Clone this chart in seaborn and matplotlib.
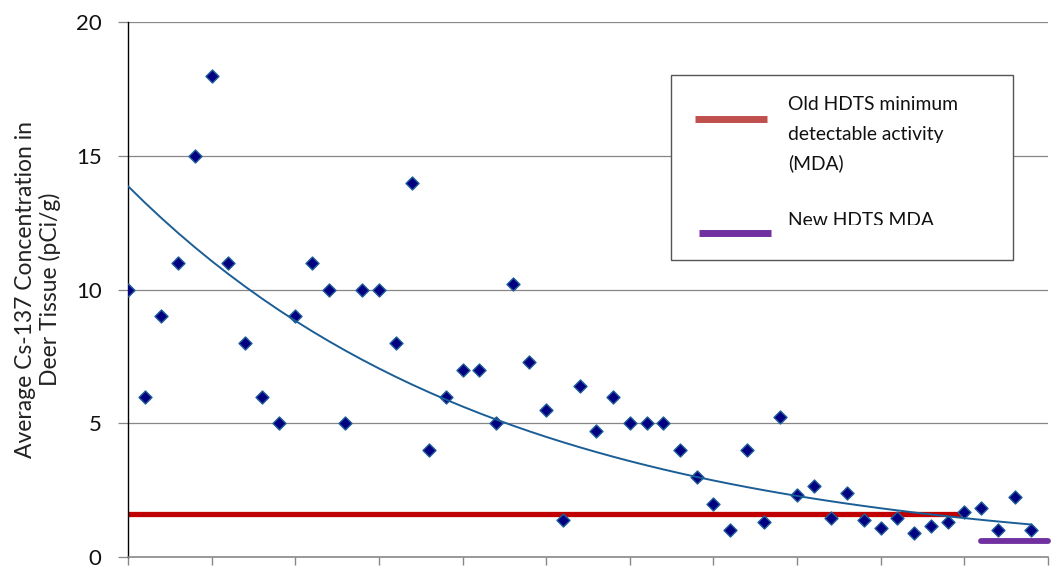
import numpy as np
import pandas as pd
import matplotlib
matplotlib.use("Agg")
import matplotlib.pyplot as plt
import seaborn as sns
from matplotlib.patches import Rectangle
from matplotlib.transforms import Bbox

# average Cs-137 concentration per sample (pCi/g)
cs137 = [10, 6, 9, 11, 15, 18, 11, 8, 6, 5,
         9, 11, 10, 5, 10, 10, 8, 14, 4, 6,
         7, 7, 5, 10.2, 7.3, 5.5, 1.4, 6.4, 4.7, 6,
         5, 5, 5, 4, 3, 2, 1, 4, 1.3, 5.25,
         2.3, 2.65, 1.45, 2.4, 1.4, 1.1, 1.45, 0.9, 1.15, 1.3,
         1.7, 1.85, 1.0, 2.25, 1.0]

old_mda_x = [0, 49.8]
old_mda_y = [1.6, 1.6]
new_mda_x = [51, 55]
new_mda_y = [0.6, 0.6]

y_ticks = [0, 5, 10, 15, 20]
x_ticks = [0, 5, 10, 15, 20, 25, 30, 35, 40, 45, 50, 55]

df = pd.DataFrame({"sample": np.arange(len(cs137)), "cs137": cs137})

# exponential trendline (same as Excel's)
b, ln_a = np.polyfit(df["sample"], np.log(df["cs137"]), 1)
df["trend"] = np.exp(ln_a + b * df["sample"])

sns.set_theme(style="white")
plt.rcParams["font.family"] = ["Lato", "DejaVu Sans"]

fig = plt.figure(figsize=(10.57, 5.82), dpi=100)
ax = fig.add_axes([128 / 1057, 1 - 557 / 582, 920 / 1057, 535 / 582])

grid_c = "#878787"
for yv in y_ticks[1:]:
    ax.axhline(yv, color=grid_c, lw=0.9, zorder=0)

ax.plot(old_mda_x, old_mda_y, color="#C00000", lw=3.8, solid_capstyle="butt", zorder=2)
ax.plot(new_mda_x, new_mda_y, color="#7030A0", lw=4.2, solid_capstyle="round",
        zorder=2, clip_on=False)

sns.scatterplot(data=df, x="sample", y="cs137", marker="D", s=44,
                color="#000080", edgecolor="#1F5F9A", linewidth=1.0,
                zorder=3, ax=ax, legend=False)
sns.lineplot(data=df, x="sample", y="trend", color="#1B5E96", lw=1.4,
             zorder=4, ax=ax)

ax.set_xlim(0, 55)
ax.set_ylim(0, 20)
ax.set_xticks(x_ticks)
ax.set_xticklabels([])
ax.set_yticks(y_ticks)
ax.set_xlabel("")
ax.set_ylabel("Average Cs-137 Concentration in\nDeer Tissue (pCi/g)", fontsize=16.5,
              color="#222222", linespacing=1.2)
ax.yaxis.set_label_coords(-0.0978, 0.5)
ax.yaxis.label.set_va("center")

for s in ["top", "right"]:
    ax.spines[s].set_visible(False)
ax.spines["left"].set_color("black")
ax.spines["left"].set_linewidth(1.0)
ax.spines["bottom"].set_color(grid_c)
ax.spines["bottom"].set_linewidth(1.2)
ax.tick_params(axis="y", direction="out", length=7, width=0.9, color=grid_c,
               left=True, labelsize=16, pad=12, labelcolor="#111111")
ax.tick_params(axis="x", direction="out", length=6, width=1.0, color=grid_c,
               bottom=True)

# legend box drawn by hand (bottom entry is clipped like the original)
ta = ax.transAxes
ax.add_patch(Rectangle((0.5902, 0.5551), 0.3718, 0.3458, transform=ta,
                       facecolor="white", edgecolor="#555555", lw=1.0, zorder=5))
ax.plot([0.6163, 0.6946], [0.8187, 0.8187], transform=ta, color="#C0504D",
        lw=5, solid_capstyle="butt", zorder=6)
ax.plot([0.6207, 0.6989], [0.6056, 0.6056], transform=ta, color="#7030A0",
        lw=5, solid_capstyle="butt", zorder=6)

def px_y(py):
    return (557 - py) / 535

tx = (788 - 128) / 920
for txt, base in [("Old HDTS minimum", 110), ("detectable activity", 140), ("(MDA)", 169)]:
    ax.text(tx, px_y(base), txt, transform=ta, fontsize=13.9, va="baseline",
            ha="left", color="#111111", zorder=7)
t = ax.text(tx, px_y(226), "New HDTS MDA", transform=ta, fontsize=13.9,
            va="baseline", ha="left", color="#111111", zorder=7)
t.set_clip_box(Bbox.from_extents(0, 582 - 225, 1057, 582))
t.set_clip_on(True)

fig.savefig("out.png", dpi=100)
